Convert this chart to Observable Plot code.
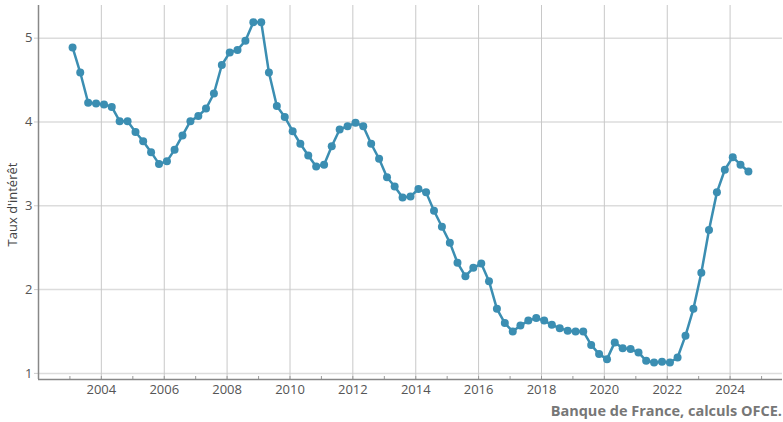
<!DOCTYPE html>
<html>
<head>
<meta charset="utf-8">
<script src="https://cdn.jsdelivr.net/npm/d3@7"></script>
<script src="https://cdn.jsdelivr.net/npm/@observablehq/plot@0.6"></script>
<style>
  body { margin: 0; background: #fff; font-family: "Open Sans", sans-serif; }
  #chart svg { display: block; }
  #caption { width: 782px; text-align: right; font-weight: bold; font-size: 14.5px; color: #777; line-height: 26px; height: 24px; }
</style>
</head>
<body>
<div id="chart"></div>
<div id="caption"></div>
<script>
// Quarterly series, first observation 2003 Q1 (dated mid-quarter month)
const firstQuarter = "2003-02-01";
const rates = [
  4.89, 4.59, 4.23, 4.22, 4.21, 4.18, 4.01, 4.01, 3.88, 3.77,
  3.64, 3.50, 3.53, 3.67, 3.84, 4.01, 4.07, 4.16, 4.34, 4.68,
  4.83, 4.86, 4.97, 5.19, 5.19, 4.59, 4.19, 4.06, 3.89, 3.74,
  3.60, 3.47, 3.49, 3.71, 3.91, 3.95, 3.99, 3.95, 3.74, 3.56,
  3.34, 3.23, 3.10, 3.11, 3.20, 3.16, 2.94, 2.75, 2.56, 2.32,
  2.16, 2.26, 2.31, 2.10, 1.77, 1.60, 1.50, 1.57, 1.63, 1.66,
  1.63, 1.58, 1.54, 1.51, 1.50, 1.50, 1.34, 1.23, 1.17, 1.37,
  1.30, 1.29, 1.25, 1.15, 1.13, 1.14, 1.13, 1.19, 1.45, 1.77,
  2.20, 2.71, 3.16, 3.43, 3.58, 3.49, 3.41
];
const yTicks = [1, 2, 3, 4, 5];
const labelYears = [2004, 2006, 2008, 2010, 2012, 2014, 2016, 2018, 2020, 2022, 2024];
const tickYears = [2003, 2004, 2005, 2006, 2007, 2008, 2009, 2010, 2011, 2012, 2013, 2014,
                   2015, 2016, 2017, 2018, 2019, 2020, 2021, 2022, 2023, 2024, 2025];
const yLabel = "Taux d'intérêt";
const captionText = "Banque de France, calculs OFCE.";

const xDomain = [new Date(Date.UTC(2002, 0, 1)), new Date(Date.UTC(2025, 8, 1))];
const yDomain = [0.927, 5.39];
const yr = y => new Date(Date.UTC(y, 0, 1));

const data = rates.map((v, i) => ({ date: d3.utcMonth.offset(new Date(firstQuarter), 3 * i), rate: v }));

const color = "#3b8eb2";

const chart = Plot.plot({
  width: 783,
  height: 398,
  marginLeft: 38,
  marginRight: 1,
  marginTop: 5,
  marginBottom: 19,
  style: { fontFamily: "Open Sans", fontSize: "13px", color: "#555", background: "#fff" },
  x: { type: "utc", domain: xDomain },
  y: { domain: yDomain },
  marks: [
    Plot.gridY(yTicks, { stroke: "#dcdcdc", strokeOpacity: 1, strokeWidth: 1.5 }),
    Plot.gridX(labelYears.map(yr), { stroke: "#c8c8c8", strokeOpacity: 1 }),
    Plot.axisY(yTicks, { tickSize: 4, tickPadding: 2, stroke: "#ccc", tickFormat: d3.format("d"), label: null }),
    Plot.axisX(tickYears.map(yr), { tickSize: 3, dy: -3, text: null, stroke: "#999", label: null }),
    Plot.axisX(labelYears.map(yr), { tickSize: 0, tickPadding: 5, tickFormat: d3.utcFormat("%Y"), label: null }),
    Plot.ruleX([xDomain[0]], { stroke: "#888", strokeWidth: 1.5 }),
    Plot.ruleY([yDomain[0]], { stroke: "#888", strokeWidth: 1.5 }),
    Plot.line(data, { x: "date", y: "rate", stroke: color, strokeWidth: 2.5 }),
    Plot.dot(data, { x: "date", y: "rate", r: 4, fill: color }),
    Plot.text([yLabel], { frameAnchor: "left", textAnchor: "middle", rotate: -90, dx: -26, dy: 12, fill: "#444", fontSize: 13 })
  ]
});

document.getElementById("chart").append(chart);
document.getElementById("caption").textContent = captionText;
</script>
</body>
</html>
